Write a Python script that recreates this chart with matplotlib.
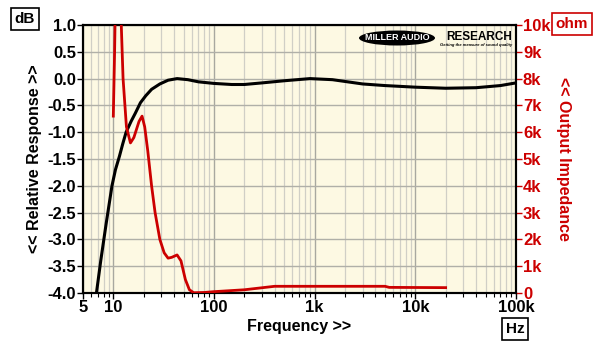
import numpy as np
import matplotlib
matplotlib.use('Agg')
import matplotlib.pyplot as plt
from matplotlib.patches import Ellipse
from matplotlib.ticker import FixedLocator, NullFormatter

plt.rcParams['font.family'] = ['Liberation Sans', 'DejaVu Sans']

# relative response (dB)
resp_f = [6.8, 7.5, 8.5, 9.7, 10.5, 11.5, 12.4, 13.4, 15, 16.5, 18.6, 21, 24, 29, 35, 43,
          55, 70, 100, 150, 200, 300, 500, 900, 1500, 3000, 5000, 10000, 20000,
          40000, 70000, 100000]
resp_db = [-4.0, -3.4, -2.7, -2.0, -1.7, -1.45, -1.22, -1.0, -0.8, -0.65, -0.45, -0.32, -0.2,
           -0.1, -0.03, 0.0, -0.02, -0.06, -0.09, -0.11, -0.11, -0.08, -0.04, 0.0,
           -0.02, -0.1, -0.13, -0.16, -0.18, -0.17, -0.13, -0.08]

# output impedance (ohm)
imp_f = [10, 10.3, 10.6, 11, 11.5, 12, 12.5, 13.5, 14.8, 16, 18, 19.3, 20.5, 22, 24,
         26, 29, 32, 35, 38, 43, 47, 52, 57, 63, 80, 100, 200, 400, 1000, 5000,
         5500, 20000]
imp_ohm = [6600, 9000, 12000, 15000, 14000, 10000, 8000, 6200, 5600, 5800, 6400, 6600,
           6200, 5300, 4000, 3000, 2000, 1500, 1300, 1330, 1420, 1200, 500, 120, 10,
           20, 50, 120, 250, 250, 250, 210, 200]

x_ticks = [5, 10, 100, 1000, 10000, 100000]
x_labels = ['5', '10', '100', '1k', '10k', '100k']
y_ticks = np.arange(-4.0, 1.01, 0.5)
z_ticks = np.arange(0, 10001, 1000)
z_labels = ['0'] + ['%dk' % i for i in range(1, 11)]

red = '#cc0000'

fig = plt.figure(figsize=(6.04, 3.61), dpi=100)
ax = fig.add_axes([83/604, 1 - 293/361, 433/604, 268/361])
ax.set_facecolor('#fdf9e3')

ax.set_xscale('log')
ax.set_xlim(5, 100000)
ax.set_ylim(-4.0, 1.0)

minor = [m * 10**d for d in range(0, 5) for m in range(2, 10) if 5 < m * 10**d < 100000]
ax.xaxis.set_major_locator(FixedLocator(x_ticks))
ax.xaxis.set_minor_locator(FixedLocator(minor))
ax.xaxis.set_minor_formatter(NullFormatter())
ax.set_xticklabels(x_labels)
ax.set_yticks(y_ticks)
ax.set_yticklabels(['%.1f' % v for v in y_ticks])

ax.grid(True, which='major', axis='x', color='#a8a8a0', lw=1.0)
ax.grid(True, which='minor', axis='x', color='#d0cfc6', lw=0.9)
ax.grid(True, which='major', axis='y', color='#b0b0a8', lw=1.0)

ax.tick_params(axis='both', which='major', length=4, width=1, labelsize=12, pad=1)
ax.tick_params(axis='x', which='minor', length=3, width=0.8)
for lab in ax.get_xticklabels() + ax.get_yticklabels():
    lab.set_fontweight('bold')
for s in ax.spines.values():
    s.set_linewidth(1.5)

ax.plot(resp_f, resp_db, color='black', lw=2.2, zorder=5, clip_on=True)

ax2 = ax.twinx()
ax2.set_ylim(0, 10000)
ax2.set_yticks(z_ticks)
ax2.set_yticklabels(z_labels)
ax2.tick_params(axis='y', length=4, width=1, colors=red, labelsize=12, pad=1)
for lab in ax2.get_yticklabels():
    lab.set_fontweight('bold')
for s in ax2.spines.values():
    s.set_linewidth(1.5)
ax2.plot(imp_f, imp_ohm, color=red, lw=2.0, zorder=4)

ax.set_xlabel('Frequency >>', fontsize=11.5, fontweight='bold', labelpad=3)
ax.set_ylabel('<< Relative Response >>', fontsize=11.5, fontweight='bold', labelpad=4)
fig.text(563/604, 1 - 159/361, '<< Output Impedance', fontsize=11.5, fontweight='bold',
         color=red, rotation=-90, ha='center', va='center')

box = dict(boxstyle='square,pad=0.25', fc='white', ec='black', lw=1.2)
fig.text(25/604, 1 - 19/361, 'dB', fontsize=11, fontweight='bold', ha='center', va='center', bbox=box)
fig.text(572/604, 1 - 24/361, 'ohm', fontsize=11, fontweight='bold', color=red,
         ha='center', va='center', bbox=dict(boxstyle='square,pad=0.25', fc='white', ec=red, lw=1.2))
fig.text(515/604, 1 - 329/361, 'Hz', fontsize=11, fontweight='bold', ha='center', va='center', bbox=box)

# logo
logo = Ellipse((397/604, 1 - 38/361), 76/604, 15/361, transform=fig.transFigure,
               fc='black', ec='none', zorder=10)
fig.add_artist(logo)
fig.text(397/604, 1 - 38/361, 'MILLER AUDIO', fontsize=6.5, fontweight='bold',
         color='white', ha='center', va='center', zorder=11)
fig.text(512/604, 1 - 37/361, 'RESEARCH', fontsize=8.5, fontweight='bold',
         color='black', ha='right', va='center', zorder=11)
fig.text(512/604, 1 - 45/361, 'Getting the measure of sound quality', fontsize=3,
         style='italic', fontweight='bold', color='black', ha='right', va='center', zorder=11)

fig.savefig('out.png', dpi=100)
